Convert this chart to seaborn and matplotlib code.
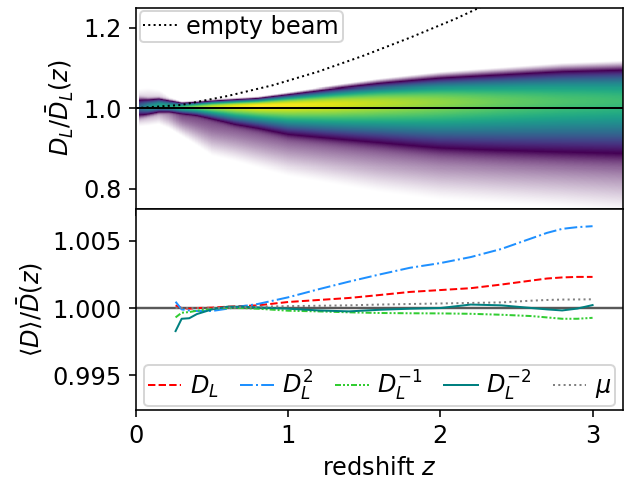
import numpy as np
import pandas as pd
import matplotlib
matplotlib.use("Agg")
import matplotlib.pyplot as plt
from matplotlib.colors import ListedColormap, LogNorm
import seaborn as sns

# ---------------- data ----------------
# bottom panel: mean of D^n normalised, vs redshift
z_mean = [0.26, 0.30, 0.35, 0.40, 0.50, 0.60, 0.70, 0.80, 1.00, 1.20, 1.40,
          1.60, 1.80, 2.00, 2.20, 2.40, 2.60, 2.70, 2.80, 2.90, 3.00]
mean_DL = [1.0002, 1.0000, 0.99995, 1.0000, 1.00003, 1.0001, 1.00015, 1.0002,
           1.00045, 1.0006, 1.00075, 1.00097, 1.0012, 1.00134, 1.00148,
           1.00175, 1.00205, 1.0022, 1.00228, 1.00232, 1.00232]
mean_DL2 = [1.00047, 0.9999, 0.99982, 0.99978, 0.99978, 0.99995, 1.00014,
            1.0003, 1.0008, 1.0014, 1.00197, 1.0025, 1.0030, 1.00335, 1.0038,
            1.0044, 1.0052, 1.0056, 1.0059, 1.00603, 1.0061]
mean_DLm1 = [0.9993, 0.99965, 0.9997, 0.9998, 0.99995, 1.0000, 1.0000,
             0.99995, 0.9998, 0.99975, 0.99968, 0.99963, 0.99961, 0.9996,
             0.99957, 0.9995, 0.9994, 0.9993, 0.9992, 0.9992, 0.99927]
mean_DLm2 = [0.99828, 0.9992, 0.99924, 0.99955, 0.9999, 1.0001, 1.0001,
             1.00005, 0.99995, 0.99982, 0.99975, 0.99987, 0.99995, 1.0000,
             1.00026, 1.0002, 1.0000, 0.9999, 0.99982, 0.99996, 1.00022]
mean_mu = [1.0000, 1.0000, 1.0000, 1.0000, 1.0000, 1.00003, 1.00006, 1.0001,
           1.00014, 1.00017, 1.0002, 1.00026, 1.0003, 1.00034, 1.00038,
           1.00042, 1.00055, 1.0006, 1.00063, 1.00064, 1.00065]

# top panel: empty-beam distance ratio
z_eb = [0.0, 0.3, 0.6, 0.9, 1.2, 1.5, 1.8, 2.1, 2.4]
d_eb = [1.0, 1.008, 1.030, 1.057, 1.091, 1.131, 1.175, 1.222, 1.275]

# top panel: density of D_L / mean(D_L) (2D histogram, log counts)
dens_z = [0.02, 0.08, 0.15, 0.22, 0.3, 0.4, 0.5, 0.65, 0.8, 1.0, 1.3, 1.6,
          2.0, 2.4, 2.8, 3.2]
dens_log_peak = [1.0, 1.5, 1.7, 1.75, 2.1, 2.45, 2.7, 2.9, 3.0, 2.95, 2.85,
                 2.7, 2.5, 2.3, 2.15, 2.05]
dens_mode = [1.0, 1.002, 1.006, 1.004, 1.002, 1.003, 1.004, 1.005, 1.006,
             1.008, 1.010, 1.012, 1.014, 1.015, 1.016, 1.017]
dens_sig_up = [0.009, 0.007, 0.006, 0.005, 0.0035, 0.0035, 0.004, 0.0045,
               0.005, 0.007, 0.0105, 0.0139, 0.0177, 0.0206, 0.0235, 0.025]
dens_sig_lo = [0.009, 0.007, 0.006, 0.005, 0.0052, 0.0063, 0.0086, 0.0121,
               0.0146, 0.0193, 0.0231, 0.0272, 0.033, 0.0368, 0.040, 0.0427]
haze_lo_amp = [0.2, 0.2, 0.2, 0.3, 0.57, 0.58, 0.59, 0.65, 0.72, 0.82, 0.87,
               0.9, 0.96, 0.98, 0.97, 0.94]
haze_lo_sig = [0.024, 0.024, 0.024, 0.026, 0.0297, 0.04, 0.0508, 0.056,
               0.0618, 0.0692, 0.0771, 0.0852, 0.0926, 0.0965, 0.1009, 0.1066]
haze_up_amp = [0.12, 0.12, 0.12, 0.15, 0.2, 0.25, 0.3, 0.3, 0.3, 0.3, 0.3,
               0.3, 0.3, 0.3, 0.3, 0.3]
haze_up_sig = [0.03, 0.03, 0.025, 0.014, 0.008, 0.009, 0.010, 0.0105,
               0.011, 0.0135, 0.017, 0.021, 0.025, 0.027, 0.029, 0.030]

legend_labels = [r"$D_L$", r"$D_L^2$", r"$D_L^{-1}$", r"$D_L^{-2}$", r"$\mu$"]

# ---------------- figure ----------------
plt.rcParams["font.size"] = 12
DPI = 144
fig, (ax1, ax2) = plt.subplots(2, 1, sharex=True,
                               figsize=(644 / DPI, 484 / DPI), dpi=DPI)
fig.subplots_adjust(left=136 / 644, right=623 / 644, top=1 - 7.5 / 484,
                    bottom=1 - 410 / 484, hspace=0)

# density field of the top panel
z_edges = np.linspace(0, 3.2, 641)
v_edges = np.linspace(0.75, 1.25, 401)
zc = 0.5 * (z_edges[1:] + z_edges[:-1])
vc = 0.5 * (v_edges[1:] + v_edges[:-1])
ip = lambda arr: np.interp(zc, dens_z, arr)[None, :]
P, M = ip(dens_log_peak), ip(dens_mode)
SU, SD = ip(dens_sig_up), ip(dens_sig_lo)
AL, SL = ip(haze_lo_amp), ip(haze_lo_sig)
AU, SUH = ip(haze_up_amp), ip(haze_up_sig)
d = vc[:, None] - M
core = np.where(d >= 0, np.exp(-0.5 * (d / SU) ** 2),
                np.exp(-(np.abs(d) / SD) ** 1.5))
haze = np.where(d < 0, AL * np.exp(-0.5 * (d / SL) ** 2),
                AU * np.exp(-0.5 * (d / SUH) ** 2))
counts = 10 ** P * core + haze
counts[:, zc < dens_z[0]] = 0
cmin = 0.03
counts = np.ma.masked_less(counts, cmin)

n2 = 300
n1 = int(round(n2 * (-np.log10(cmin)) / 3))
w = np.linspace(0, 1, n1) ** 1.4
purple = np.array(matplotlib.colormaps["viridis"](0.0))
haze_cols = (1 - w)[:, None] * np.ones(4) + w[:, None] * purple
vir_cols = matplotlib.colormaps["viridis"](np.linspace(0, 1, n2))
cmap = ListedColormap(np.vstack([haze_cols, vir_cols]))

ax1.pcolormesh(z_edges, v_edges, counts, cmap=cmap,
               norm=LogNorm(cmin, 1e3), shading="flat", rasterized=True)
ax1.axhline(1.0, color="k", lw=1.0)
sns.lineplot(x=z_eb, y=d_eb, ax=ax1, color="k", linestyle=":", lw=1.0,
             label="empty beam")
ax1.set_ylim(0.75, 1.25)
ax1.set_yticks([0.8, 1.0, 1.2])
ax1.set_ylabel(r"$D_L/\bar{D}_L(z)$")
ax1.legend(loc="upper left", handlelength=1.4, handletextpad=0.4,
           borderpad=0.15, borderaxespad=0.15)

# bottom panel
ax2.axhline(1.0, color="0.35", lw=1.2)
styles = [
    (mean_DL, "red", (0, (3.7, 1.6))),
    (mean_DL2, "dodgerblue", (0, (6.4, 1.6, 1.0, 1.6))),
    (mean_DLm1, "limegreen", (0, (3.0, 1.0, 1.0, 1.0, 1.0, 1.0))),
    (mean_DLm2, "teal", "-"),
    (mean_mu, "grey", (0, (1.0, 1.65))),
]
for (vals, col, ls), lab in zip(styles, legend_labels):
    sns.lineplot(x=z_mean, y=vals, ax=ax2, color=col, linestyle=ls, lw=1.0,
                 label=lab)
ax2.set_ylim(0.9924, 1.0074)
ax2.set_yticks([0.995, 1.000, 1.005])
ax2.set_ylabel(r"$\langle D\rangle/\bar{D}(z)$")
ax2.set_xlim(0, 3.2)
ax2.set_xticks([0, 1, 2, 3])
ax2.set_xlabel(r"redshift $z$")
ax2.legend(loc="lower center", ncol=5, handlelength=1.4, handletextpad=0.35,
           columnspacing=0.9, borderpad=0.15, borderaxespad=0.15)

fig.savefig("out.png", dpi=DPI)
